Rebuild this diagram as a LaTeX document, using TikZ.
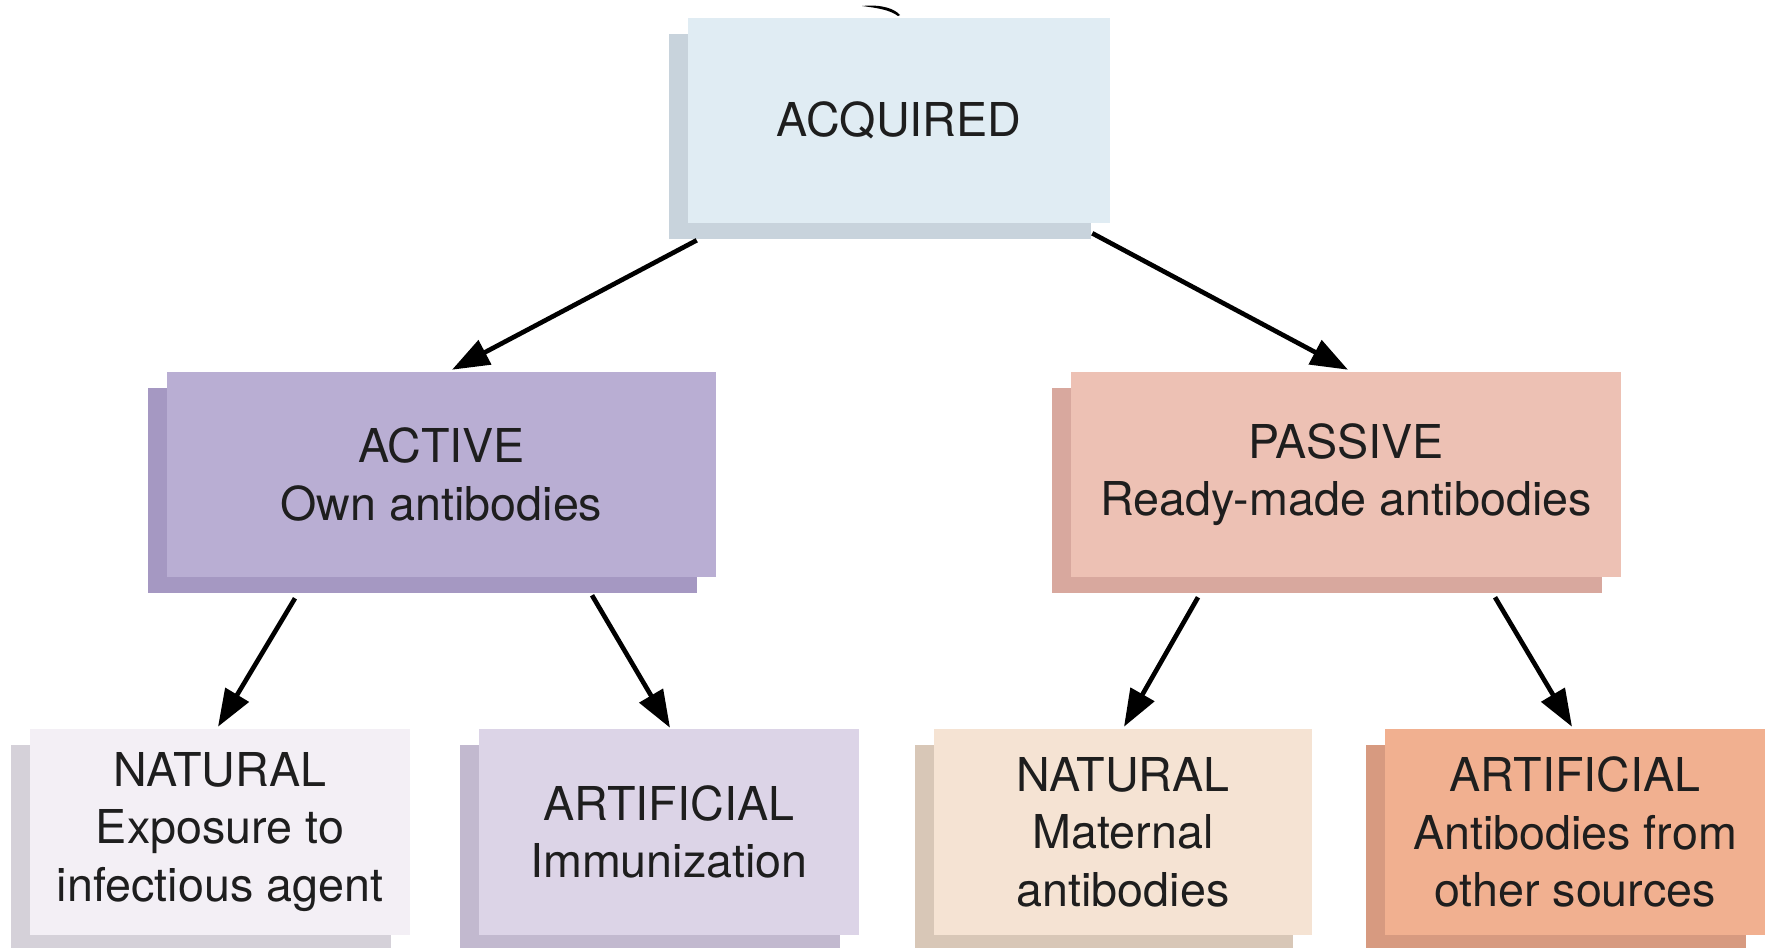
\documentclass[tikz,border=0pt]{standalone}
\usepackage{fontspec}
\setmainfont{TeX Gyre Heros}
\usetikzlibrary{arrows.meta,shadows}
\definecolor{acqF}{HTML}{E0ECF3}\definecolor{acqS}{HTML}{C8D3DC}
\definecolor{actF}{HTML}{B9AED3}\definecolor{actS}{HTML}{A598C2}
\definecolor{pasF}{HTML}{EDC1B4}\definecolor{pasS}{HTML}{D8A89E}
\definecolor{natAF}{HTML}{F3EFF5}\definecolor{natAS}{HTML}{D5D1D9}
\definecolor{artAF}{HTML}{DCD4E7}\definecolor{artAS}{HTML}{C2B9CF}
\definecolor{natPF}{HTML}{F5E3D3}\definecolor{natPS}{HTML}{D8C7B7}
\definecolor{artPF}{HTML}{F1B090}\definecolor{artPS}{HTML}{D79A80}
\definecolor{txt}{HTML}{1E1E1E}
\tikzset{
  box/.style n args={4}{rectangle, inner sep=0pt, align=center, text=txt,
    minimum width=#1*0.75pt, minimum height=#2*0.75pt, fill=#3,
    font=\fontsize{35}{43}\selectfont,
    drop shadow={shadow xshift=-14.25pt, shadow yshift=-12pt, opacity=1, fill=#4}},
  arr/.style={line width=3.5pt, -{Triangle[length=28pt,width=20pt]}}
}
\begin{document}
\begin{tikzpicture}[x=0.75pt,y=-0.75pt]
\useasboundingbox (0,0) rectangle (1767,947);
\node[box={422}{205}{acqF}{acqS}] (acq) at (899,120.5) {ACQUIRED};
\node[box={549}{205}{actF}{actS}] (act) at (441.5,474.5) {ACTIVE\\Own antibodies};
\node[box={550}{205}{pasF}{pasS}] (pas) at (1346,474.5) {PASSIVE\\Ready-made antibodies};
\node[box={380}{206}{natAF}{natAS}] (natA) at (220,832) {NATURAL\\Exposure to\\infectious agent};
\node[box={380}{206}{artAF}{artAS}] (artA) at (669,832) {ARTIFICIAL\\Immunization};
\node[box={378}{206}{natPF}{natPS}] (natP) at (1123,832) {NATURAL\\Maternal\\antibodies};
\node[box={380}{206}{artPF}{artPS}] (artP) at (1575,832) {ARTIFICIAL\\Antibodies from\\other sources};
\draw[arr] ([shift={(9,17)}]acq.south west) -- ([shift={(10.5,-2)}]act.north);
\draw[arr] ([shift={(-18,10)}]acq.south east) -- ([shift={(2,-2)}]pas.north);
\draw[arr] ([shift={(-146.5,21)}]act.south) -- ([shift={(-2,-2)}]natA.north);
\draw[arr] ([shift={(150.5,18)}]act.south) -- ([shift={(1,-1)}]artA.north);
\draw[arr] ([shift={(-148,20)}]pas.south) -- ([shift={(1,-2)}]natP.north);
\draw[arr] ([shift={(149,20)}]pas.south) -- ([shift={(-3,-2)}]artP.north);
\coordinate (c1) at (862,6);
\coordinate (c2) at (900,15);
\fill (c1) .. controls (882,4) and (895,9) .. (c2) -- (898,16) .. controls (890,10) and (878,8) .. (c1) -- cycle;
\end{tikzpicture}
\end{document}
